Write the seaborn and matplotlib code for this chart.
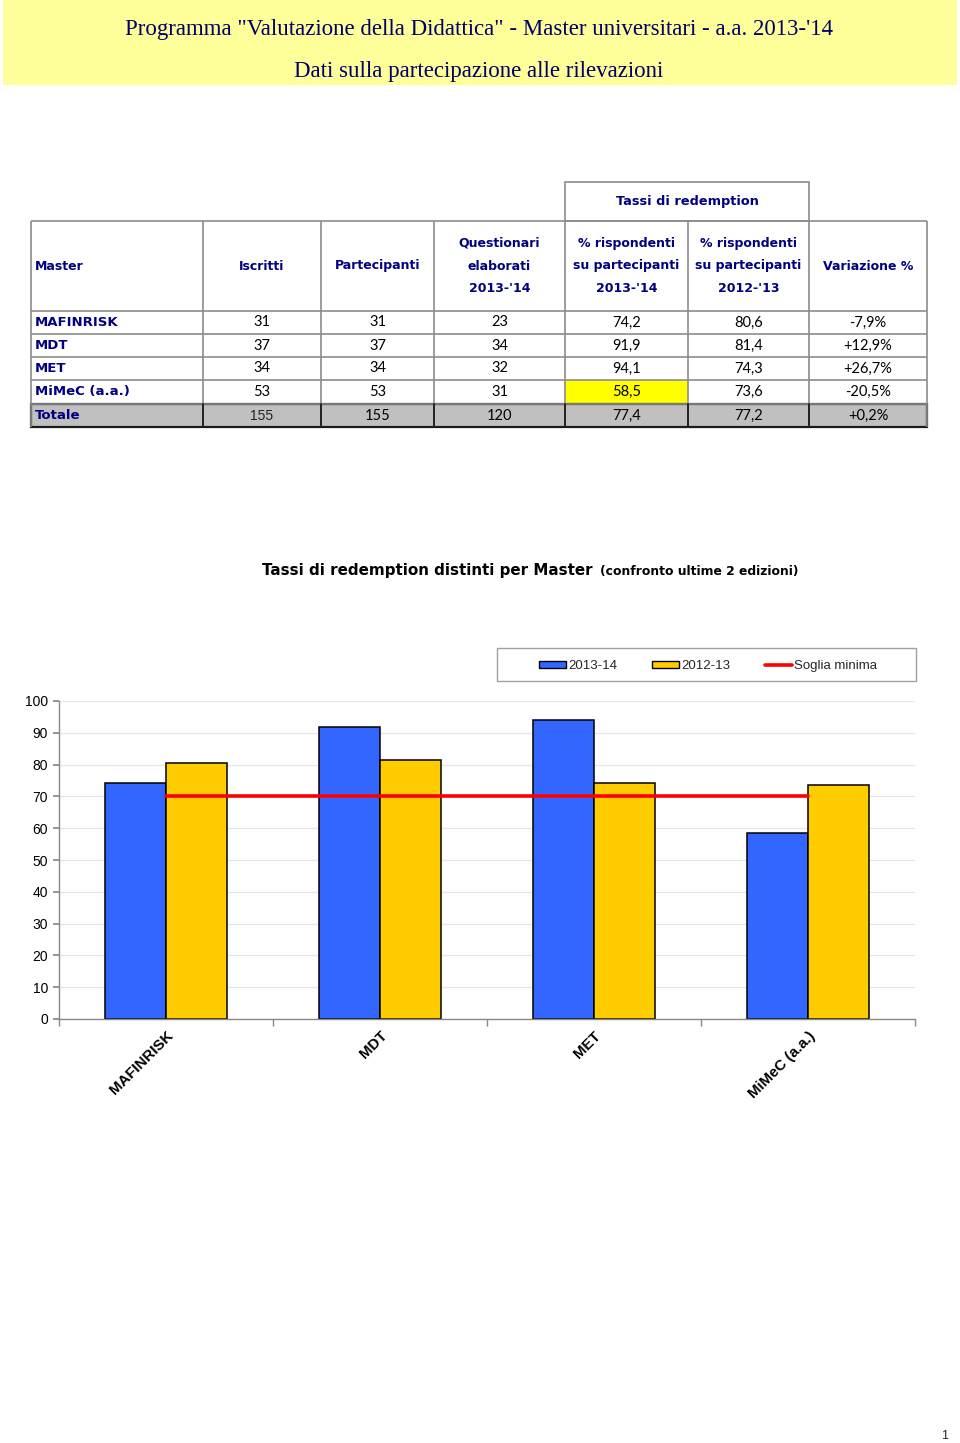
import matplotlib
matplotlib.use("Agg")
import matplotlib.pyplot as plt
from matplotlib.patches import Rectangle, Patch
from matplotlib.lines import Line2D
import seaborn as sns
import pandas as pd

# ---------------- data ----------------
masters = ["MAFINRISK", "MDT", "MET", "MiMeC (a.a.)"]
iscritti = [31, 37, 34, 53]
partecipanti = [31, 37, 34, 53]
questionari = [23, 34, 32, 31]
pct_1314 = [74.2, 91.9, 94.1, 58.5]
pct_1213 = [80.6, 81.4, 74.3, 73.6]
variazione = [-7.9, 12.9, 26.7, -20.5]
totale = ["Totale", 155, 155, 120, 77.4, 77.2, 0.2]
soglia = [70, 70, 70, 70]
series_labels = ["2013-14", "2012-13"]
threshold_label = "Soglia minima"
yticks = [0, 10, 20, 30, 40, 50, 60, 70, 80, 90, 100]

BLUE = "#3366FF"
YELLOW = "#FFCC00"
RED = "#FF0000"
NAVY = "#000080"
GRID = "#8C8C8C"

W, H = 960, 1443
sns.set_theme(style="white")
plt.rcParams["font.family"] = ["DejaVu Sans"]

fig = plt.figure(figsize=(W / 100, H / 100), dpi=100)
fig.patch.set_facecolor("white")

# overlay in pixel coords
ov = fig.add_axes([0, 0, 1, 1], zorder=0)
ov.set_xlim(0, W)
ov.set_ylim(H, 0)
ov.axis("off")

# --------- header band ---------
ov.add_patch(Rectangle((3, 0), 954, 85, facecolor="#FFFF99", edgecolor="none"))
ov.text(479, 29, "Programma \"Valutazione della Didattica\" - Master universitari - a.a. 2013-'14",
        ha="center", va="center", fontsize=16.5, color="#000066", family="Liberation Serif")
ov.text(479, 72, "Dati sulla partecipazione alle rilevazioni",
        ha="center", va="center", fontsize=16.5, color="#000066", family="Liberation Serif")

# --------- table ---------
cols = [31, 203, 321, 434, 565, 688, 809, 927]
rows = [221, 311, 334, 357, 380, 404, 427]
centers = [(cols[i] + cols[i + 1]) / 2 for i in range(len(cols) - 1)]

def fmt1(v):
    return f"{v:.1f}".replace(".", ",")

def fmtvar(v):
    return ("+" if v > 0 else "") + f"{v:.1f}".replace(".", ",") + "%"

# backgrounds
ov.add_patch(Rectangle((565, 380), 123, 24, facecolor="#FFFF00", edgecolor="none"))
ov.add_patch(Rectangle((31, 404), 896, 23, facecolor="#C0C0C0", edgecolor="none"))

# "Tassi di redemption" box
ov.add_patch(Rectangle((565, 182), 244, 39, facecolor="none", edgecolor=GRID, lw=1.2))
ov.text(687, 201, "Tassi di redemption", ha="center", va="center", fontsize=9.3,
        fontweight="bold", color=NAVY)

# grid lines
for x in cols:
    ov.plot([x, x], [rows[0], rows[-1]], color=GRID, lw=1.2, solid_capstyle="butt")
for y in rows[:-1]:
    ov.plot([cols[0], cols[-1]], [y, y], color=GRID, lw=1.2, solid_capstyle="butt")
# Totale row thick border
ov.add_patch(Rectangle((31, 404), 896, 23, facecolor="none", edgecolor="#1A1A1A", lw=1.6))
for x in cols[1:-1]:
    ov.plot([x, x], [404, 427], color="#1A1A1A", lw=1.3)

# header text
hdr_kw = dict(fontsize=9, fontweight="bold", color=NAVY, va="center")
ov.text(35, 266, "Master", ha="left", **hdr_kw)
ov.text(centers[1], 266, "Iscritti", ha="center", **hdr_kw)
ov.text(centers[2], 266, "Partecipanti", ha="center", **hdr_kw)
for i, lines in [(3, ["Questionari", "elaborati", "2013-'14"]),
                 (4, ["% rispondenti", "su partecipanti", "2013-'14"]),
                 (5, ["% rispondenti", "su partecipanti", "2012-'13"])]:
    for j, t in enumerate(lines):
        ov.text(centers[i], 243 + 23 * j, t, ha="center", **hdr_kw)
ov.text(centers[6], 266, "Variazione %", ha="center", **hdr_kw)

# body rows
num_kw = dict(fontsize=10.5, color="black", va="center", ha="center", family="Lato")
for r in range(len(masters)):
    yc = (rows[r + 1] + rows[r + 2]) / 2
    ov.text(35, yc, masters[r], ha="left", va="center", fontsize=9.5, fontweight="bold", color=NAVY)
    vals = [str(iscritti[r]), str(partecipanti[r]), str(questionari[r]),
            fmt1(pct_1314[r]), fmt1(pct_1213[r]), fmtvar(variazione[r])]
    for c, v in enumerate(vals):
        ov.text(centers[c + 1], yc, v, **num_kw)

yc = (rows[5] + rows[6]) / 2
ov.text(35, yc, totale[0], ha="left", va="center", fontsize=9.5, fontweight="bold", color=NAVY)
tvals = [str(totale[1]), str(totale[2]), str(totale[3]), fmt1(totale[4]), fmt1(totale[5]), fmtvar(totale[6])]
for c, v in enumerate(tvals):
    if c == 0:
        ov.text(centers[c + 1], yc + 1, v, ha="center", va="center", fontsize=10,
                family="Liberation Sans", color="#222222")
    else:
        ov.text(centers[c + 1], yc, v, **num_kw)

# chart title
ov.text(593, 570, "Tassi di redemption distinti per Master", ha="right", va="center",
        fontsize=10.9, fontweight="bold", color="black")
ov.text(600, 571, "(confronto ultime 2 edizioni)", ha="left", va="center",
        fontsize=8.9, fontweight="bold", color="black")

# page number
ov.text(945, 1436, "1", ha="center", va="center", fontsize=9, family="Liberation Sans")

# legend frame
ov.add_patch(Rectangle((497, 648), 419, 33, facecolor="white", edgecolor="#A0A0A0", lw=1))

# --------- chart ---------
ax = fig.add_axes([59 / W, 424 / H, 856 / W, 318 / H], zorder=1)
ax.set_facecolor("none")

df = pd.DataFrame({
    "Master": masters * 2,
    "Anno": [series_labels[0]] * 4 + [series_labels[1]] * 4,
    "valore": pct_1314 + pct_1213,
})
sns.barplot(data=df, x="Master", y="valore", hue="Anno", palette=[BLUE, YELLOW],
            width=0.57, saturation=1, edgecolor="black", linewidth=1.1, ax=ax,
            legend=False, zorder=2)
sns.lineplot(x=list(range(len(masters))), y=soglia, color=RED, lw=2.6, ax=ax, zorder=3)

ax.set_xlim(-0.5, len(masters) - 0.5)
ax.set_ylim(0, 100)
ax.set_yticks(yticks)
ax.yaxis.grid(True, color="#E6E6E6", lw=0.9)
ax.set_axisbelow(True)
ax.set_xlabel("")
ax.set_ylabel("")
for s in ["top", "right"]:
    ax.spines[s].set_visible(False)
for s in ["left", "bottom"]:
    ax.spines[s].set_color("#888888")
    ax.spines[s].set_linewidth(1)
ax.tick_params(axis="y", which="major", length=4, color="#888888", direction="out",
               labelsize=10, pad=4, left=True, labelcolor="black")
ax.set_xticks(range(len(masters)))
ax.set_xticks([i - 0.5 for i in range(len(masters) + 1)], minor=True)
ax.tick_params(axis="x", which="major", length=0, pad=7, labelcolor="black")
ax.tick_params(axis="x", which="minor", length=5, color="#888888", direction="out", bottom=True)
ax.set_xticklabels(masters)
for lab in ax.get_xticklabels():
    lab.set_rotation(45)
    lab.set_ha("right")
    lab.set_va("top")
    lab.set_rotation_mode("anchor")
    lab.set_fontproperties({"family": "Liberation Sans", "weight": "bold", "size": 10.8})
for lab in ax.get_yticklabels():
    lab.set_family("Liberation Sans")

handles = [Patch(facecolor=BLUE, edgecolor="black", lw=1),
           Patch(facecolor=YELLOW, edgecolor="black", lw=1),
           Line2D([0], [0], color=RED, lw=2.6)]
leg = fig.legend(handles, series_labels + [threshold_label], loc="center",
                 bbox_to_anchor=(708 / W, 1 - 666 / H), ncol=3, frameon=False,
                 handlelength=2.1, handleheight=0.5, handletextpad=0.15,
                 columnspacing=2.6, prop={"family": "Liberation Sans", "size": 9.5})

fig.savefig("out.png", dpi=100, facecolor="white")
